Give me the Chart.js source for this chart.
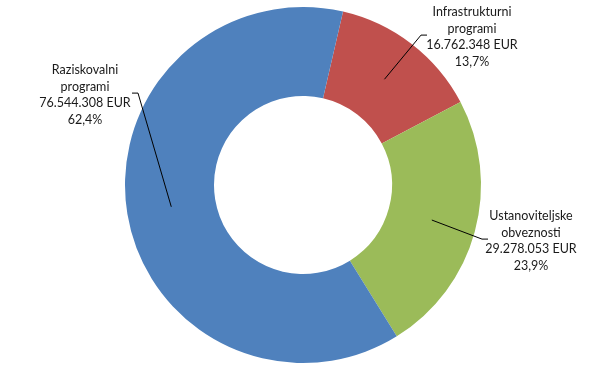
<!DOCTYPE html>
<html>
<head>
<meta charset="utf-8">
<script src="https://cdn.jsdelivr.net/npm/chart.js@4.4.1/dist/chart.umd.min.js"></script>
<style>
  html, body { margin: 0; padding: 0; background: #fff; }
  #wrap { width: 603px; height: 367px; }
</style>
</head>
<body>
<div id="wrap"><canvas id="myChart"></canvas></div>
<script>
const categories = ['Infrastrukturni programi', 'Ustanoviteljske obveznosti', 'Raziskovalni programi'];
const labelLines = [['Infrastrukturni', 'programi'], ['Ustanoviteljske', 'obveznosti'], ['Raziskovalni', 'programi']];
const amounts = [16762348, 29278053, 76544308];
const colors = ['#C0504D', '#9BBB59', '#4F81BD'];

// where each label sits, relative to the pie centre (text centre x, first line y, elbow x, elbow side)
const labelPlace = [
    { dx: 169, dy: -173, ex: 118, side: -1 },
    { dx: 228, dy: 31, ex: 179, side: -1 },
    { dx: -218, dy: -115, ex: -165, side: 1 }
];

function fmtThousands(n) {
    return String(n).replace(/\B(?=(\d{3})+(?!\d))/g, '.');
}

const total = amounts.reduce((a, b) => a + b, 0);

const leaderLabels = {
    id: 'leaderLabels',
    afterDatasetsDraw(chart) {
        const c = chart.ctx;
        const meta = chart.getDatasetMeta(0);
        const lineH = 16.5;
        c.save();
        c.font = '12.5px Lato';
        c.fillStyle = '#1a1a1a';
        c.strokeStyle = '#000';
        c.lineWidth = 1;
        c.textAlign = 'center';
        c.textBaseline = 'middle';
        meta.data.forEach((arc, i) => {
            const cx = arc.x, cy = arc.y;
            const p = labelPlace[i];
            const lines = labelLines[i].concat([
                fmtThousands(amounts[i]) + ' EUR',
                (amounts[i] / total * 100).toFixed(1).replace('.', ',') + '%'
            ]);
            const tx = cx + p.dx, ty = cy + p.dy;
            lines.forEach((t, k) => c.fillText(t, tx, ty + k * lineH));
            const pos = arc.tooltipPosition();
            const ey = ty + lineH * 1.4;
            const ex = cx + p.ex;
            c.beginPath();
            c.moveTo(pos.x, pos.y);
            c.lineTo(ex, ey);
            c.lineTo(ex - p.side * 6, ey);
            c.stroke();
        });
        c.restore();
    }
};

const myChart = new Chart(
    document.querySelector('#myChart'),
    {
        type: 'doughnut',
        data: {
            labels: categories,
            datasets: [
                {
                    data: amounts,
                    backgroundColor: colors,
                    borderWidth: 0
                }
            ]
        },
        options: {
            responsive: true,
            maintainAspectRatio: false,
            animation: false,
            rotation: 13,
            cutout: '50%',
            layout: {
                padding: { top: 7, bottom: 4, left: 3, right: 0 }
            },
            plugins: {
                legend: { display: false },
                tooltip: { enabled: false }
            }
        },
        plugins: [leaderLabels]
    }
)
</script>
</body>
</html>
